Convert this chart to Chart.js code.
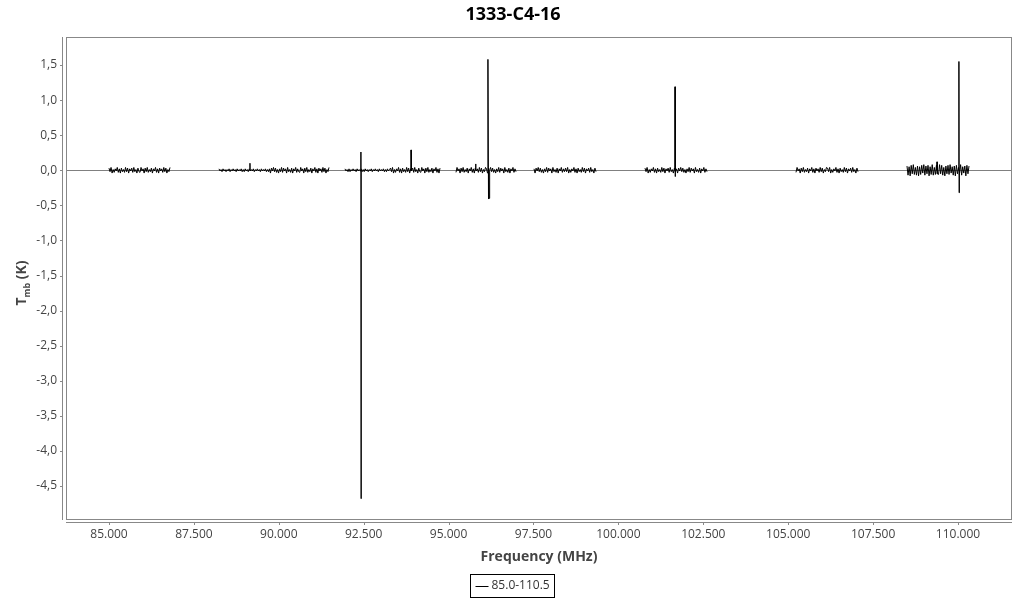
<!DOCTYPE html>
<html>
<head>
<meta charset="utf-8">
<script src="https://cdn.jsdelivr.net/npm/chart.js@4"></script>
<style>
  html, body { margin: 0; padding: 0; background: #fff; }
  #wrap { width: 1024px; height: 600px; position: relative; }
</style>
</head>
<body>
<div id="wrap"><canvas id="spec" width="1024" height="600"></canvas></div>
<script>
const TITLE = '1333-C4-16';
const SERIES_LABEL = '85.0-110.5';
const X_TITLE = 'Frequency (MHz)';

const X_MIN = 83734;
const X_MAX = 111590;
const Y_MIN = -4.984;
const Y_MAX = 1.899;
const X_TICKS = [85000, 87500, 90000, 92500, 95000, 97500, 100000, 102500, 105000, 107500, 110000];
const Y_TICKS = [1.5, 1.0, 0.5, 0.0, -0.5, -1.0, -1.5, -2.0, -2.5, -3.0, -3.5, -4.0, -4.5];

// observed sub-bands (MHz)
const BAND_START = [85000, 88239, 91949, 95218, 97515, 100783, 105230, 108498];
const BAND_END   = [86796, 91478, 94747, 96985, 99340, 102609, 107055, 110324];

// baseline noise per band, in units of 0.01 K
const NOISE_1 = [3,-2,4,-4,1,-3,2,-1,4,-3,2,-4,3,-2,1,-3,4,-2,3,-4,2,-1,3,-3,4,-2,1,-4,3,-2,
                 -3,4,-1,2,-4,3,-2,4,-3,1,-2,3,-4,2,-1,4,-3,2,-4,3,-1,2,-3,4,-2,3,-4,1,-2,4];
const NOISE_2 = [2,-1,1,-2,2,-1,1,-2,1,-1,2,-2,1,-1,2,-1,1,-2,2,-1,1,-1,2,-2,1,-2,2,-1,1,-2,
                 2,-1,1,-1,2,-2,1,-1,2,-1,1,-2,2,-1,1,-1,2,-2,1,-2,
                 2,-4,3,-1,4,-2,3,-3,1,-4,2,-2,4,-3,3,-1,2,-4,4,-2,1,-3,3,-4,2,-1,4,-3,2,-2,
                 -3,4,-1,2,-4,3,-2,4,-3,1,-2,3,-4,2,-1,4,-3,2,-4,3,-1,2,-3,4,-2,3,-4,1,-2,4];
const NOISE_3 = [2,-1,1,-2,2,-2,1,-1,2,-1,1,-2,2,-1,1,-1,2,-2,1,-2,2,-1,1,-2,1,-1,2,-2,1,-1,
                 2,-1,1,-2,2,-1,1,-1,2,-2,1,-2,2,-1,1,
                 3,-2,4,-4,1,-3,2,-1,4,-3,2,-4,3,-2,1,-3,4,-2,3,-4,2,-1,3,-3,4,-2,1,-4,3,-2,
                 -3,4,-1,2,-4,3,-2,4,-3,1,-2,3,-4,2,-1,4,-3,2,-4,3];
const NOISE_4 = [-3,4,-1,2,-4,3,-2,4,-3,1,-2,3,-4,2,-1,4,-3,2,-4,3,-1,2,-3,4,-2,3,-4,1,-2,4,
                 2,-4,3,-1,4,-2,3,-3,1,-4,2,-2,4,-3,3,-1,2,-4,4,-2,1,-3,3,-4,2,-1,4,-3,2,-2];
const NOISE_5 = [2,-4,3,-1,4,-2,3,-3,1,-4,2,-2,4,-3,3,-1,2,-4,4,-2,1,-3,3,-4,2,-1,4,-3,2,-2,
                 3,-2,4,-4,1,-3,2,-1,4,-3,2,-4,3,-2,1,-3,4,-2,3,-4,2,-1,3,-3,4,-2,1,-4,3,-2];
const NOISE_6 = [3,-2,4,-4,1,-3,2,-1,4,-3,2,-4,3,-2,1,-3,4,-2,3,-4,2,-1,3,-3,4,-2,1,-4,3,-2,
                 2,-4,3,-1,4,-2,3,-3,1,-4,2,-2,4,-3,3,-1,2,-4,4,-2,1,-3,3,-4,2,-1,4,-3,2,-2];
const NOISE_7 = [-3,4,-1,2,-4,3,-2,4,-3,1,-2,3,-4,2,-1,4,-3,2,-4,3,-1,2,-3,4,-2,3,-4,1,-2,4,
                 3,-2,4,-4,1,-3,2,-1,4,-3,2,-4,3,-2,1,-3,4,-2,3,-4,2,-1,3,-3,4,-2,1,-4,3,-2];
const NOISE_8 = [6,-7,5,-8,7,-5,8,-6,4,-7,6,-8,5,-6,7,-4,8,-7,6,-5,7,-8,5,-6,8,-7,4,-6,7,-5,
                 -6,8,-5,7,-7,4,-8,6,-5,7,-6,8,-4,5,-7,6,-8,7,-5,4,-6,8,-7,5,-4,6,-8,7,-5,6];
const BAND_NOISE = [NOISE_1, NOISE_2, NOISE_3, NOISE_4, NOISE_5, NOISE_6, NOISE_7, NOISE_8];

// emission / absorption channels (MHz, K)
const LINE_FREQ  = [89150, 89152, 89154,
                    92416, 92420, 92424, 92428,
                    93890, 93893, 93896,
                    95798, 95800, 95802,
                    96156, 96160, 96175, 96190, 96205, 96215,
                    101663, 101667, 101671, 101675,
                    109380, 109382, 109384,
                    110025, 110029, 110033, 110037];
const LINE_VALUE = [0, 0.10, 0,
                    0, 0.26, -4.68, 0,
                    0, 0.29, 0,
                    0, 0.09, 0,
                    0, 1.58, -0.41, -0.40, -0.38, 0,
                    0, 1.19, -0.09, 0,
                    0, 0.12, 0,
                    0, 1.55, -0.32, 0];

function buildPoints() {
    const pts = [];
    BAND_START.forEach((start, b) => {
        const end = BAND_END[b];
        const noise = BAND_NOISE[b];
        const step = (end - start) / (noise.length - 1);
        const band = noise.map((v, i) => ({ x: start + i * step, y: v / 100 }));
        LINE_FREQ.forEach((f, i) => {
            if (f >= start && f <= end) band.push({ x: f, y: LINE_VALUE[i] });
        });
        band.sort((p, q) => p.x - q.x);
        pts.push(...band);
        pts.push({ x: end + 1, y: null });
    });
    return pts;
}

function fmtThousands(v) {
    const k = Math.floor(v / 1000);
    const r = String(Math.round(v % 1000)).padStart(3, '0');
    return k + '.' + r;
}

const AXIS_GREY = '#888888';

const framePlugin = {
    id: 'frame',
    afterDraw(chart) {
        const { ctx, chartArea: a, scales } = chart;
        ctx.save();
        ctx.strokeStyle = AXIS_GREY;
        ctx.lineWidth = 1;
        // plot box
        ctx.strokeRect(a.left + 0.5, a.top + 0.5, a.right - a.left - 1, a.bottom - a.top - 1);
        // offset y axis
        const yx = a.left - 3.5;
        ctx.beginPath();
        ctx.moveTo(yx, a.top);
        ctx.lineTo(yx, a.bottom);
        scales.y.ticks.forEach(t => {
            const py = Math.round(scales.y.getPixelForValue(t.value)) + 0.5;
            ctx.moveTo(yx - 2.5, py);
            ctx.lineTo(yx, py);
        });
        // offset x axis
        const xy = a.bottom + 2.5;
        ctx.moveTo(a.left, xy);
        ctx.lineTo(a.right, xy);
        scales.x.ticks.forEach(t => {
            const px = Math.round(scales.x.getPixelForValue(t.value)) + 0.5;
            ctx.moveTo(px, xy);
            ctx.lineTo(px, xy + 2.5);
        });
        ctx.stroke();

        // title
        ctx.fillStyle = '#000';
        ctx.textAlign = 'center';
        ctx.textBaseline = 'middle';
        ctx.font = 'bold 18px "Open Sans"';
        ctx.fillText(TITLE, 513, 15);

        // x axis title
        ctx.fillStyle = '#444';
        ctx.font = 'bold 14px "Open Sans"';
        ctx.fillText(X_TITLE, (a.left + a.right) / 2, 557);

        // y axis title with subscript
        ctx.save();
        ctx.translate(22, 283);
        ctx.rotate(-Math.PI / 2);
        ctx.textAlign = 'left';
        const bigF = 'bold 14px "Open Sans"';
        const smallF = 'bold 9px "Open Sans"';
        ctx.font = bigF;
        const wT = ctx.measureText('T').width;
        const wK = ctx.measureText(' (K)').width;
        ctx.font = smallF;
        const wS = ctx.measureText('mb').width;
        const x0 = -(wT + wS + wK) / 2;
        ctx.font = bigF;
        ctx.fillText('T', x0, 0);
        ctx.font = smallF;
        ctx.fillText('mb', x0 + wT, 5);
        ctx.font = bigF;
        ctx.fillText(' (K)', x0 + wT + wS, 0);
        ctx.restore();

        // legend
        const label = chart.data.datasets[0].label;
        ctx.font = '12px "Open Sans"';
        const tw = ctx.measureText(label).width;
        const boxW = Math.round(tw + 26);
        const bx = Math.round(512 - boxW / 2) + 0.5;
        ctx.strokeStyle = '#000';
        ctx.strokeRect(bx, 574.5, boxW, 23);
        ctx.beginPath();
        ctx.moveTo(bx + 5, 586.5);
        ctx.lineTo(bx + 18, 586.5);
        ctx.stroke();
        ctx.fillStyle = '#333';
        ctx.textAlign = 'left';
        ctx.fillText(label, bx + 21, 586);
        ctx.restore();
    }
};

new Chart(document.getElementById('spec'), {
    type: 'line',
    data: {
        datasets: [{
            label: SERIES_LABEL,
            data: buildPoints(),
            borderColor: '#000',
            borderWidth: 1,
            pointRadius: 0,
            tension: 0,
            spanGaps: false
        }]
    },
    options: {
        responsive: false,
        animation: false,
        events: [],
        layout: { padding: { left: 0, top: 37, right: 12, bottom: 0 } },
        plugins: {
            legend: { display: false },
            title: { display: false },
            tooltip: { enabled: false }
        },
        scales: {
            x: {
                type: 'linear',
                min: X_MIN,
                max: X_MAX,
                afterFit: s => { s.height = 80; },
                afterBuildTicks: s => { s.ticks = X_TICKS.map(v => ({ value: v })); },
                border: { display: false },
                grid: { display: true, drawOnChartArea: false, drawTicks: true, tickLength: 6, color: 'rgba(0,0,0,0)' },
                ticks: {
                    maxRotation: 0,
                    autoSkip: false,
                    padding: 1,
                    color: '#444',
                    font: { family: '"Open Sans"', size: 12 },
                    callback: v => fmtThousands(v)
                }
            },
            y: {
                type: 'linear',
                min: Y_MIN,
                max: Y_MAX,
                afterFit: s => { s.width = 66; },
                afterBuildTicks: s => { s.ticks = Y_TICKS.map(v => ({ value: v })); },
                border: { display: false },
                grid: {
                    display: true,
                    drawOnChartArea: true,
                    drawTicks: true,
                    tickLength: 8,
                    tickColor: 'rgba(0,0,0,0)',
                    color: c => (c.tick && c.tick.value === 0) ? '#808080' : 'rgba(0,0,0,0)'
                },
                ticks: {
                    autoSkip: false,
                    padding: 1,
                    color: '#444',
                    font: { family: '"Open Sans"', size: 12 },
                    callback: v => v.toFixed(1).replace('.', ',')
                }
            }
        }
    },
    plugins: [framePlugin]
});
</script>
</body>
</html>
